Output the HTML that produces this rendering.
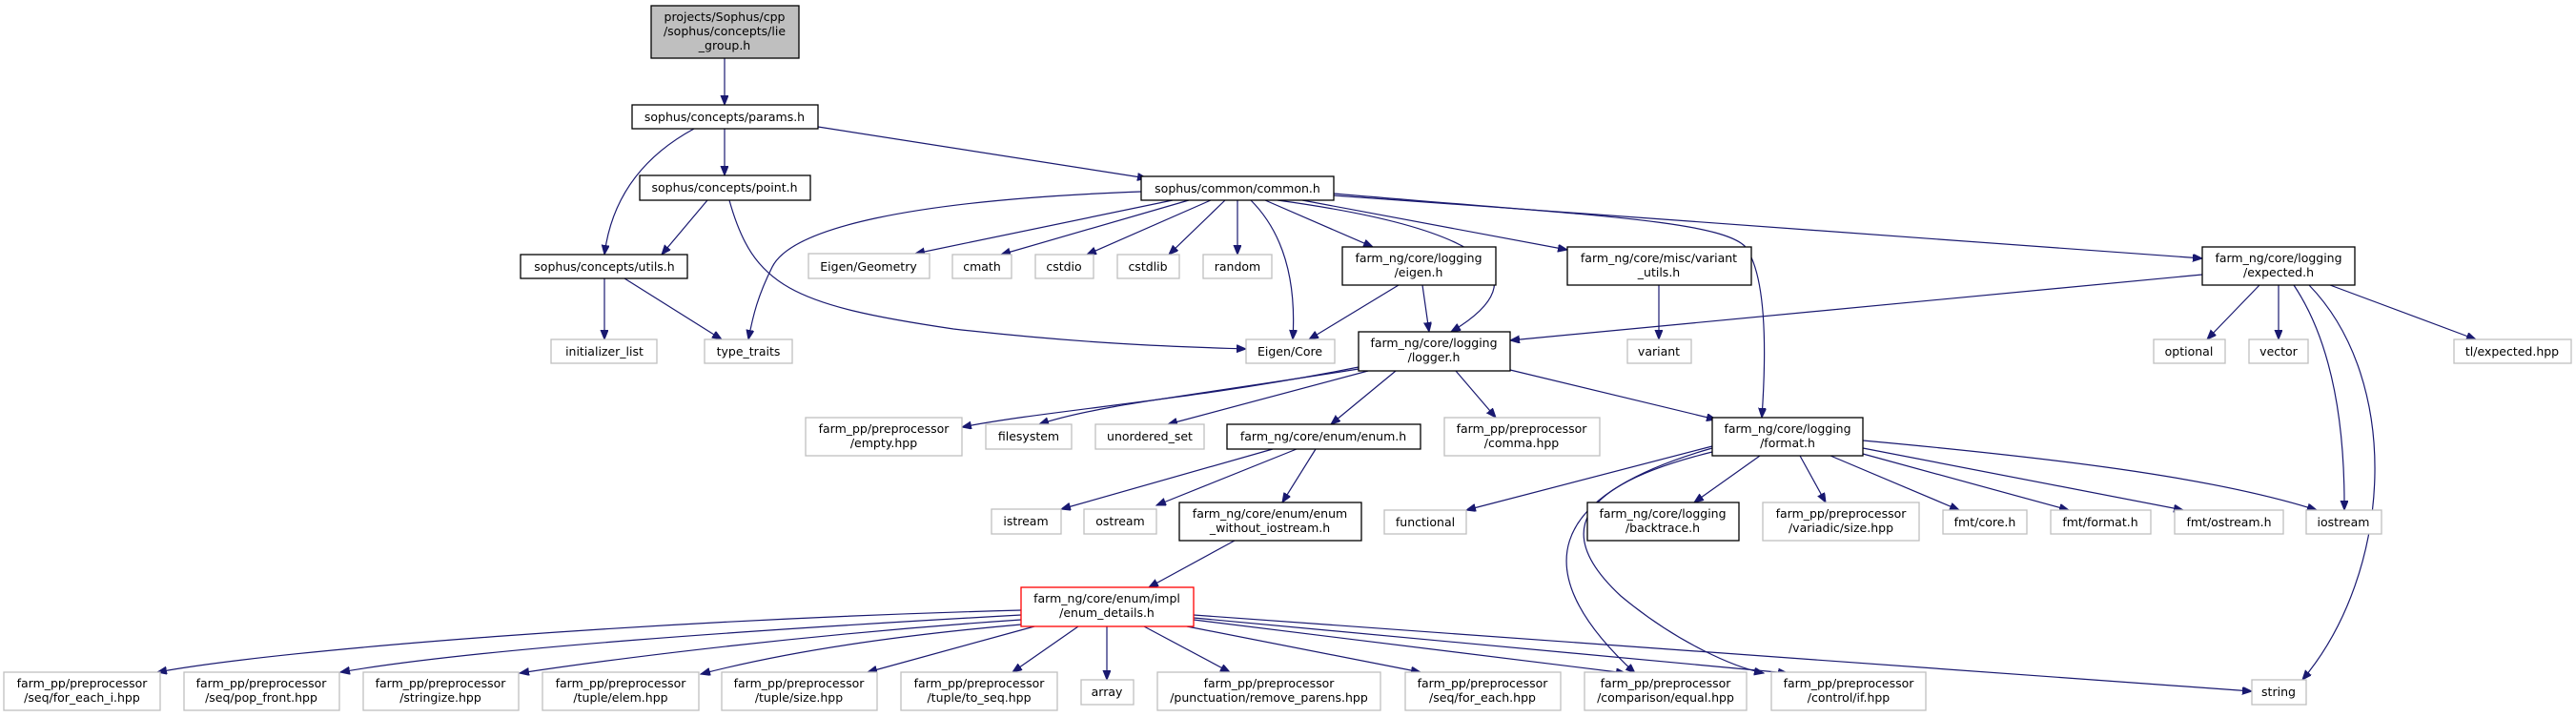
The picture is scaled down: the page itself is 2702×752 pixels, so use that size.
<!DOCTYPE html>
<html><head><meta charset="utf-8"><style>
html,body{margin:0;padding:0;background:#fff;}
svg{display:block}
text{font-family:"DejaVu Sans","Liberation Sans",sans-serif;font-size:12.5px;fill:#000;text-anchor:middle}
.d{fill:#fff;stroke:#000;stroke-width:1.3}
.e{fill:#fff;stroke:#bfbfbf;stroke-width:1.3}
.r{fill:#fff;stroke:#ff0000;stroke-width:1.3}
.g{fill:#bfbfbf;stroke:#000;stroke-width:1.3}
path{fill:none;stroke:#191970;stroke-width:1.2}
</style></head><body>
<svg width="2702" height="752" viewBox="0 0 2702 752" xmlns="http://www.w3.org/2000/svg">
<defs><marker id="a" markerUnits="userSpaceOnUse" markerWidth="11" markerHeight="9" refX="10" refY="4" orient="auto"><polygon points="0,0 10,4 0,8" fill="#191970" stroke="#191970"/></marker></defs>
<g marker-end="url(#a)">
<path d="M760,61 L760,110"/>
<path d="M760,135 L760,184"/>
<path d="M728,135 Q645,180 634,267"/>
<path d="M858,133 L1203,187"/>
<path d="M742,210 L694,267"/>
<path d="M765,210 C790,300 830,320 1000,345 C1150,362 1250,364 1307,366"/>
<path d="M634,292 L634,356"/>
<path d="M655,292 L757,356"/>
<path d="M1197,201 C950,210 830,240 810,280 C795,310 790,330 785,356"/>
<path d="M1230,210 L960,266"/>
<path d="M1247,210 L1050,267"/>
<path d="M1270,210 L1140,267"/>
<path d="M1285,210 L1226,267"/>
<path d="M1298,210 L1298,267"/>
<path d="M1312,210 Q1362,260 1356,356"/>
<path d="M1327,210 L1440,259"/>
<path d="M1340,210 C1560,240 1620,290 1522,348"/>
<path d="M1366,210 L1644,262"/>
<path d="M1399,205 L2310,271"/>
<path d="M1399,203 C1650,225 1800,230 1830,258 C1855,290 1852,380 1848,438"/>
<path d="M1467,299 L1373,356"/>
<path d="M1492,299 L1499,348"/>
<path d="M1740,299 L1740,356"/>
<path d="M2310,288 L1584,357"/>
<path d="M2370,299 L2315,356"/>
<path d="M2390,299 L2390,356"/>
<path d="M2406,299 Q2460,380 2459,535"/>
<path d="M2422,299 C2520,400 2510,600 2415,713"/>
<path d="M2444,299 L2597,356"/>
<path d="M1425,385 C1250,420 1100,430 1009,448"/>
<path d="M1425,387 C1250,415 1150,425 1090,445"/>
<path d="M1435,389 L1225,445"/>
<path d="M1464,389 L1396,445"/>
<path d="M1527,389 L1569,438"/>
<path d="M1584,388 L1800,440"/>
<path d="M1335,471 L1113,534"/>
<path d="M1360,471 L1213,530"/>
<path d="M1380,471 L1345,527"/>
<path d="M1295,567 L1205,616"/>
<path d="M1796,468 L1538,535"/>
<path d="M1846,478 L1777,527"/>
<path d="M1888,478 L1915,527"/>
<path d="M1920,478 L2055,535"/>
<path d="M1954,476 L2170,535"/>
<path d="M1954,470 L2290,535"/>
<path d="M1954,462 C2150,480 2320,500 2430,535"/>
<path d="M1796,470 C1620,520 1600,600 1715,706"/>
<path d="M1796,474 C1650,510 1630,560 1700,625 C1760,675 1820,700 1850,706"/>
<path d="M1071,640 C700,650 300,680 165,705"/>
<path d="M1071,645 C800,660 500,680 357,705"/>
<path d="M1071,650 C850,665 650,690 545,706"/>
<path d="M1071,655 C900,670 800,690 735,707"/>
<path d="M1085,657 L910,705"/>
<path d="M1131,657 L1062,705"/>
<path d="M1161,657 L1161,713"/>
<path d="M1200,657 L1290,705"/>
<path d="M1245,657 L1490,705"/>
<path d="M1252,650 L1705,706"/>
<path d="M1252,648 L1875,706"/>
<path d="M1252,645 L2362,725"/>
</g>
<rect class="g" x="683" y="6" width="155" height="55"/><text x="760" y="22">projects/Sophus/cpp</text><text x="760" y="37">/sophus/concepts/lie</text><text x="760" y="52">_group.h</text>
<rect class="d" x="663" y="110" width="195" height="25"/><text x="760" y="127">sophus/concepts/params.h</text>
<rect class="d" x="671" y="184" width="179" height="26"/><text x="760" y="201">sophus/concepts/point.h</text>
<rect class="d" x="1197" y="185" width="202" height="25"/><text x="1298" y="202">sophus/common/common.h</text>
<rect class="d" x="546" y="267" width="175" height="25"/><text x="634" y="284">sophus/concepts/utils.h</text>
<rect class="e" x="848" y="266" width="127" height="26"/><text x="911" y="284">Eigen/Geometry</text>
<rect class="e" x="999" y="267" width="62" height="25"/><text x="1030" y="284">cmath</text>
<rect class="e" x="1086" y="267" width="61" height="25"/><text x="1116" y="284">cstdio</text>
<rect class="e" x="1172" y="267" width="65" height="25"/><text x="1204" y="284">cstdlib</text>
<rect class="e" x="1262" y="267" width="72" height="25"/><text x="1298" y="284">random</text>
<rect class="d" x="1408" y="259" width="161" height="40"/><text x="1488" y="275">farm_ng/core/logging</text><text x="1488" y="290">/eigen.h</text>
<rect class="d" x="1644" y="259" width="193" height="40"/><text x="1740" y="275">farm_ng/core/misc/variant</text><text x="1740" y="290">_utils.h</text>
<rect class="d" x="2310" y="259" width="160" height="40"/><text x="2390" y="275">farm_ng/core/logging</text><text x="2390" y="290">/expected.h</text>
<rect class="e" x="578" y="356" width="111" height="25"/><text x="634" y="373">initializer_list</text>
<rect class="e" x="739" y="356" width="92" height="25"/><text x="785" y="373">type_traits</text>
<rect class="e" x="1307" y="356" width="93" height="25"/><text x="1353" y="373">Eigen/Core</text>
<rect class="d" x="1425" y="348" width="159" height="41"/><text x="1504" y="364">farm_ng/core/logging</text><text x="1504" y="379">/logger.h</text>
<rect class="e" x="1707" y="356" width="67" height="25"/><text x="1740" y="373">variant</text>
<rect class="e" x="2259" y="356" width="75" height="25"/><text x="2296" y="373">optional</text>
<rect class="e" x="2359" y="356" width="62" height="25"/><text x="2390" y="373">vector</text>
<rect class="e" x="2574" y="356" width="123" height="25"/><text x="2635" y="373">tl/expected.hpp</text>
<rect class="e" x="845" y="438" width="164" height="40"/><text x="927" y="454">farm_pp/preprocessor</text><text x="927" y="469">/empty.hpp</text>
<rect class="e" x="1034" y="445" width="90" height="26"/><text x="1079" y="462">filesystem</text>
<rect class="e" x="1149" y="445" width="114" height="26"/><text x="1206" y="462">unordered_set</text>
<rect class="d" x="1287" y="445" width="203" height="26"/><text x="1388" y="462">farm_ng/core/enum/enum.h</text>
<rect class="e" x="1515" y="438" width="163" height="40"/><text x="1596" y="454">farm_pp/preprocessor</text><text x="1596" y="469">/comma.hpp</text>
<rect class="d" x="1796" y="438" width="158" height="40"/><text x="1875" y="454">farm_ng/core/logging</text><text x="1875" y="469">/format.h</text>
<rect class="e" x="1040" y="534" width="73" height="26"/><text x="1076" y="551">istream</text>
<rect class="e" x="1137" y="534" width="76" height="26"/><text x="1175" y="551">ostream</text>
<rect class="d" x="1237" y="527" width="191" height="40"/><text x="1332" y="543">farm_ng/core/enum/enum</text><text x="1332" y="558">_without_iostream.h</text>
<rect class="e" x="1452" y="535" width="86" height="25"/><text x="1495" y="552">functional</text>
<rect class="d" x="1665" y="527" width="159" height="40"/><text x="1744" y="543">farm_ng/core/logging</text><text x="1744" y="558">/backtrace.h</text>
<rect class="e" x="1849" y="527" width="164" height="40"/><text x="1931" y="543">farm_pp/preprocessor</text><text x="1931" y="558">/variadic/size.hpp</text>
<rect class="e" x="2038" y="535" width="88" height="25"/><text x="2082" y="552">fmt/core.h</text>
<rect class="e" x="2151" y="535" width="105" height="25"/><text x="2203" y="552">fmt/format.h</text>
<rect class="e" x="2281" y="535" width="114" height="25"/><text x="2338" y="552">fmt/ostream.h</text>
<rect class="e" x="2419" y="535" width="79" height="25"/><text x="2458" y="552">iostream</text>
<rect class="r" x="1071" y="616" width="181" height="41"/><text x="1161" y="632">farm_ng/core/enum/impl</text><text x="1161" y="647">/enum_details.h</text>
<rect class="e" x="4" y="705" width="164" height="40"/><text x="86" y="721">farm_pp/preprocessor</text><text x="86" y="736">/seq/for_each_i.hpp</text>
<rect class="e" x="193" y="705" width="163" height="40"/><text x="274" y="721">farm_pp/preprocessor</text><text x="274" y="736">/seq/pop_front.hpp</text>
<rect class="e" x="381" y="705" width="163" height="40"/><text x="462" y="721">farm_pp/preprocessor</text><text x="462" y="736">/stringize.hpp</text>
<rect class="e" x="569" y="705" width="164" height="40"/><text x="651" y="721">farm_pp/preprocessor</text><text x="651" y="736">/tuple/elem.hpp</text>
<rect class="e" x="757" y="705" width="163" height="40"/><text x="838" y="721">farm_pp/preprocessor</text><text x="838" y="736">/tuple/size.hpp</text>
<rect class="e" x="945" y="705" width="164" height="40"/><text x="1027" y="721">farm_pp/preprocessor</text><text x="1027" y="736">/tuple/to_seq.hpp</text>
<rect class="e" x="1134" y="713" width="55" height="26"/><text x="1161" y="730">array</text>
<rect class="e" x="1214" y="705" width="234" height="40"/><text x="1331" y="721">farm_pp/preprocessor</text><text x="1331" y="736">/punctuation/remove_parens.hpp</text>
<rect class="e" x="1474" y="705" width="163" height="40"/><text x="1555" y="721">farm_pp/preprocessor</text><text x="1555" y="736">/seq/for_each.hpp</text>
<rect class="e" x="1662" y="705" width="170" height="40"/><text x="1747" y="721">farm_pp/preprocessor</text><text x="1747" y="736">/comparison/equal.hpp</text>
<rect class="e" x="1858" y="705" width="162" height="40"/><text x="1939" y="721">farm_pp/preprocessor</text><text x="1939" y="736">/control/if.hpp</text>
<rect class="e" x="2362" y="713" width="57" height="26"/><text x="2390" y="730">string</text>
</svg>
</body></html>
